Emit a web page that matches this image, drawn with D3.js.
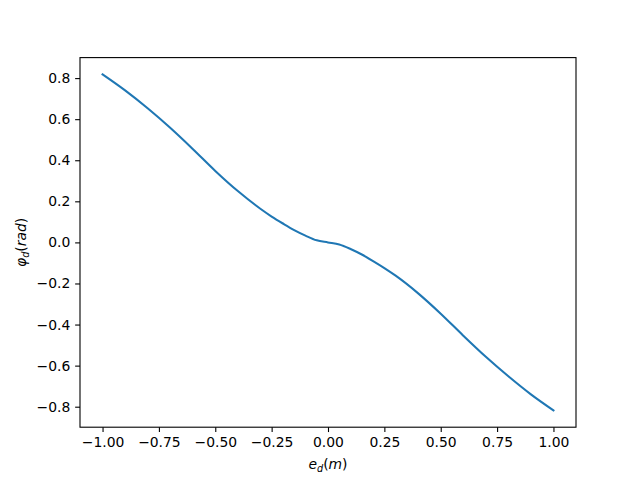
<!DOCTYPE html>
<html>
<head>
<meta charset="utf-8">
<script src="https://cdn.jsdelivr.net/npm/d3@7"></script>
<style>
  body { margin: 0; background: #fff; }
  text { font-family: "DejaVu Sans", sans-serif; }
</style>
</head>
<body>
<svg id="chart" width="640" height="480"></svg>
<script>
// values
var eD = [-1.0, -0.9, -0.8, -0.7, -0.6, -0.5, -0.4, -0.3, -0.25, -0.2, -0.15, -0.1, -0.05, 0,
          0.05, 0.1, 0.15, 0.2, 0.25, 0.3, 0.4, 0.5, 0.6, 0.7, 0.8, 0.9, 1.0];
var phiD = [0.818, 0.740, 0.653, 0.558, 0.455, 0.348, 0.250, 0.164, 0.126, 0.092, 0.060, 0.033, 0.010, 0,
            -0.010, -0.032, -0.059, -0.091, -0.125, -0.162, -0.248, -0.347, -0.454, -0.557, -0.652, -0.740, -0.818];
var xTicks = [-1.0, -0.75, -0.5, -0.25, 0, 0.25, 0.5, 0.75, 1.0];
var yTicks = [-0.8, -0.6, -0.4, -0.2, 0, 0.2, 0.4, 0.6, 0.8];

var svg = d3.select("#chart"),
    margin = {left: 80, right: 64, top: 57.6, bottom: 52.8},
    width = +svg.attr("width") - margin.left - margin.right,
    height = +svg.attr("height") - margin.top - margin.bottom;

var data = eD.map(function(d, i) { return {x: d, y: phiD[i]}; });

var x = d3.scaleLinear().domain([-1.1, 1.1]).range([0, width]);
var y = d3.scaleLinear().domain([-0.8998, 0.8998]).range([height, 0]);

var g = svg.append("g").attr("transform", "translate(" + margin.left + "," + margin.top + ")");

var line = d3.line()
  .x(function(d) { return x(d.x); })
  .y(function(d) { return y(d.y); })
  .curve(d3.curveMonotoneX);

g.append("path")
  .datum(data)
  .attr("fill", "none")
  .attr("stroke", "#1f77b4")
  .attr("stroke-width", 2.08)
  .attr("stroke-linecap", "square")
  .attr("d", line);

var fmt = d3.format(".2f");
var xAxis = g.append("g")
  .attr("transform", "translate(0," + height + ")")
  .call(d3.axisBottom(x).tickValues(xTicks).tickSize(4.86).tickPadding(4.86)
    .tickFormat(function(d) { return fmt(d).replace("-", "\u2212"); }));

var yAxis = g.append("g")
  .call(d3.axisLeft(y).tickValues(yTicks).tickSize(4.86).tickPadding(4.86)
    .tickFormat(function(d) { return d3.format(".1f")(d).replace("-", "\u2212"); }));

[xAxis, yAxis].forEach(function(a) {
  a.select(".domain").remove();
  a.selectAll("line").attr("stroke", "#000").attr("stroke-width", 1.1);
  a.selectAll("text").attr("font-size", 13.9).attr("fill", "#000")
    .attr("font-family", "DejaVu Sans");
});

// frame
g.append("rect")
  .attr("width", width).attr("height", height)
  .attr("fill", "none").attr("stroke", "#000").attr("stroke-width", 1.1);

// axis labels
var xl = svg.append("text")
  .attr("x", margin.left + width / 2).attr("y", 469)
  .attr("text-anchor", "middle").attr("font-size", 13.9);
xl.append("tspan").attr("font-style", "italic").text("e");
xl.append("tspan").attr("font-style", "italic").attr("font-size", 9.7).attr("dy", 2.5).text("d");
xl.append("tspan").attr("dy", -2.5).text("(");
xl.append("tspan").attr("font-style", "italic").text("m");
xl.append("tspan").text(")");

var yl = svg.append("text")
  .attr("transform", "translate(26," + (margin.top + height / 2) + ") rotate(-90)")
  .attr("text-anchor", "middle").attr("font-size", 13.9);
yl.append("tspan").attr("font-style", "italic").text("\u03c6");
yl.append("tspan").attr("font-style", "italic").attr("font-size", 9.7).attr("dy", 2.5).text("d");
yl.append("tspan").attr("dy", -2.5).text("(");
yl.append("tspan").attr("font-style", "italic").text("rad");
yl.append("tspan").text(")");
</script>
</body>
</html>
